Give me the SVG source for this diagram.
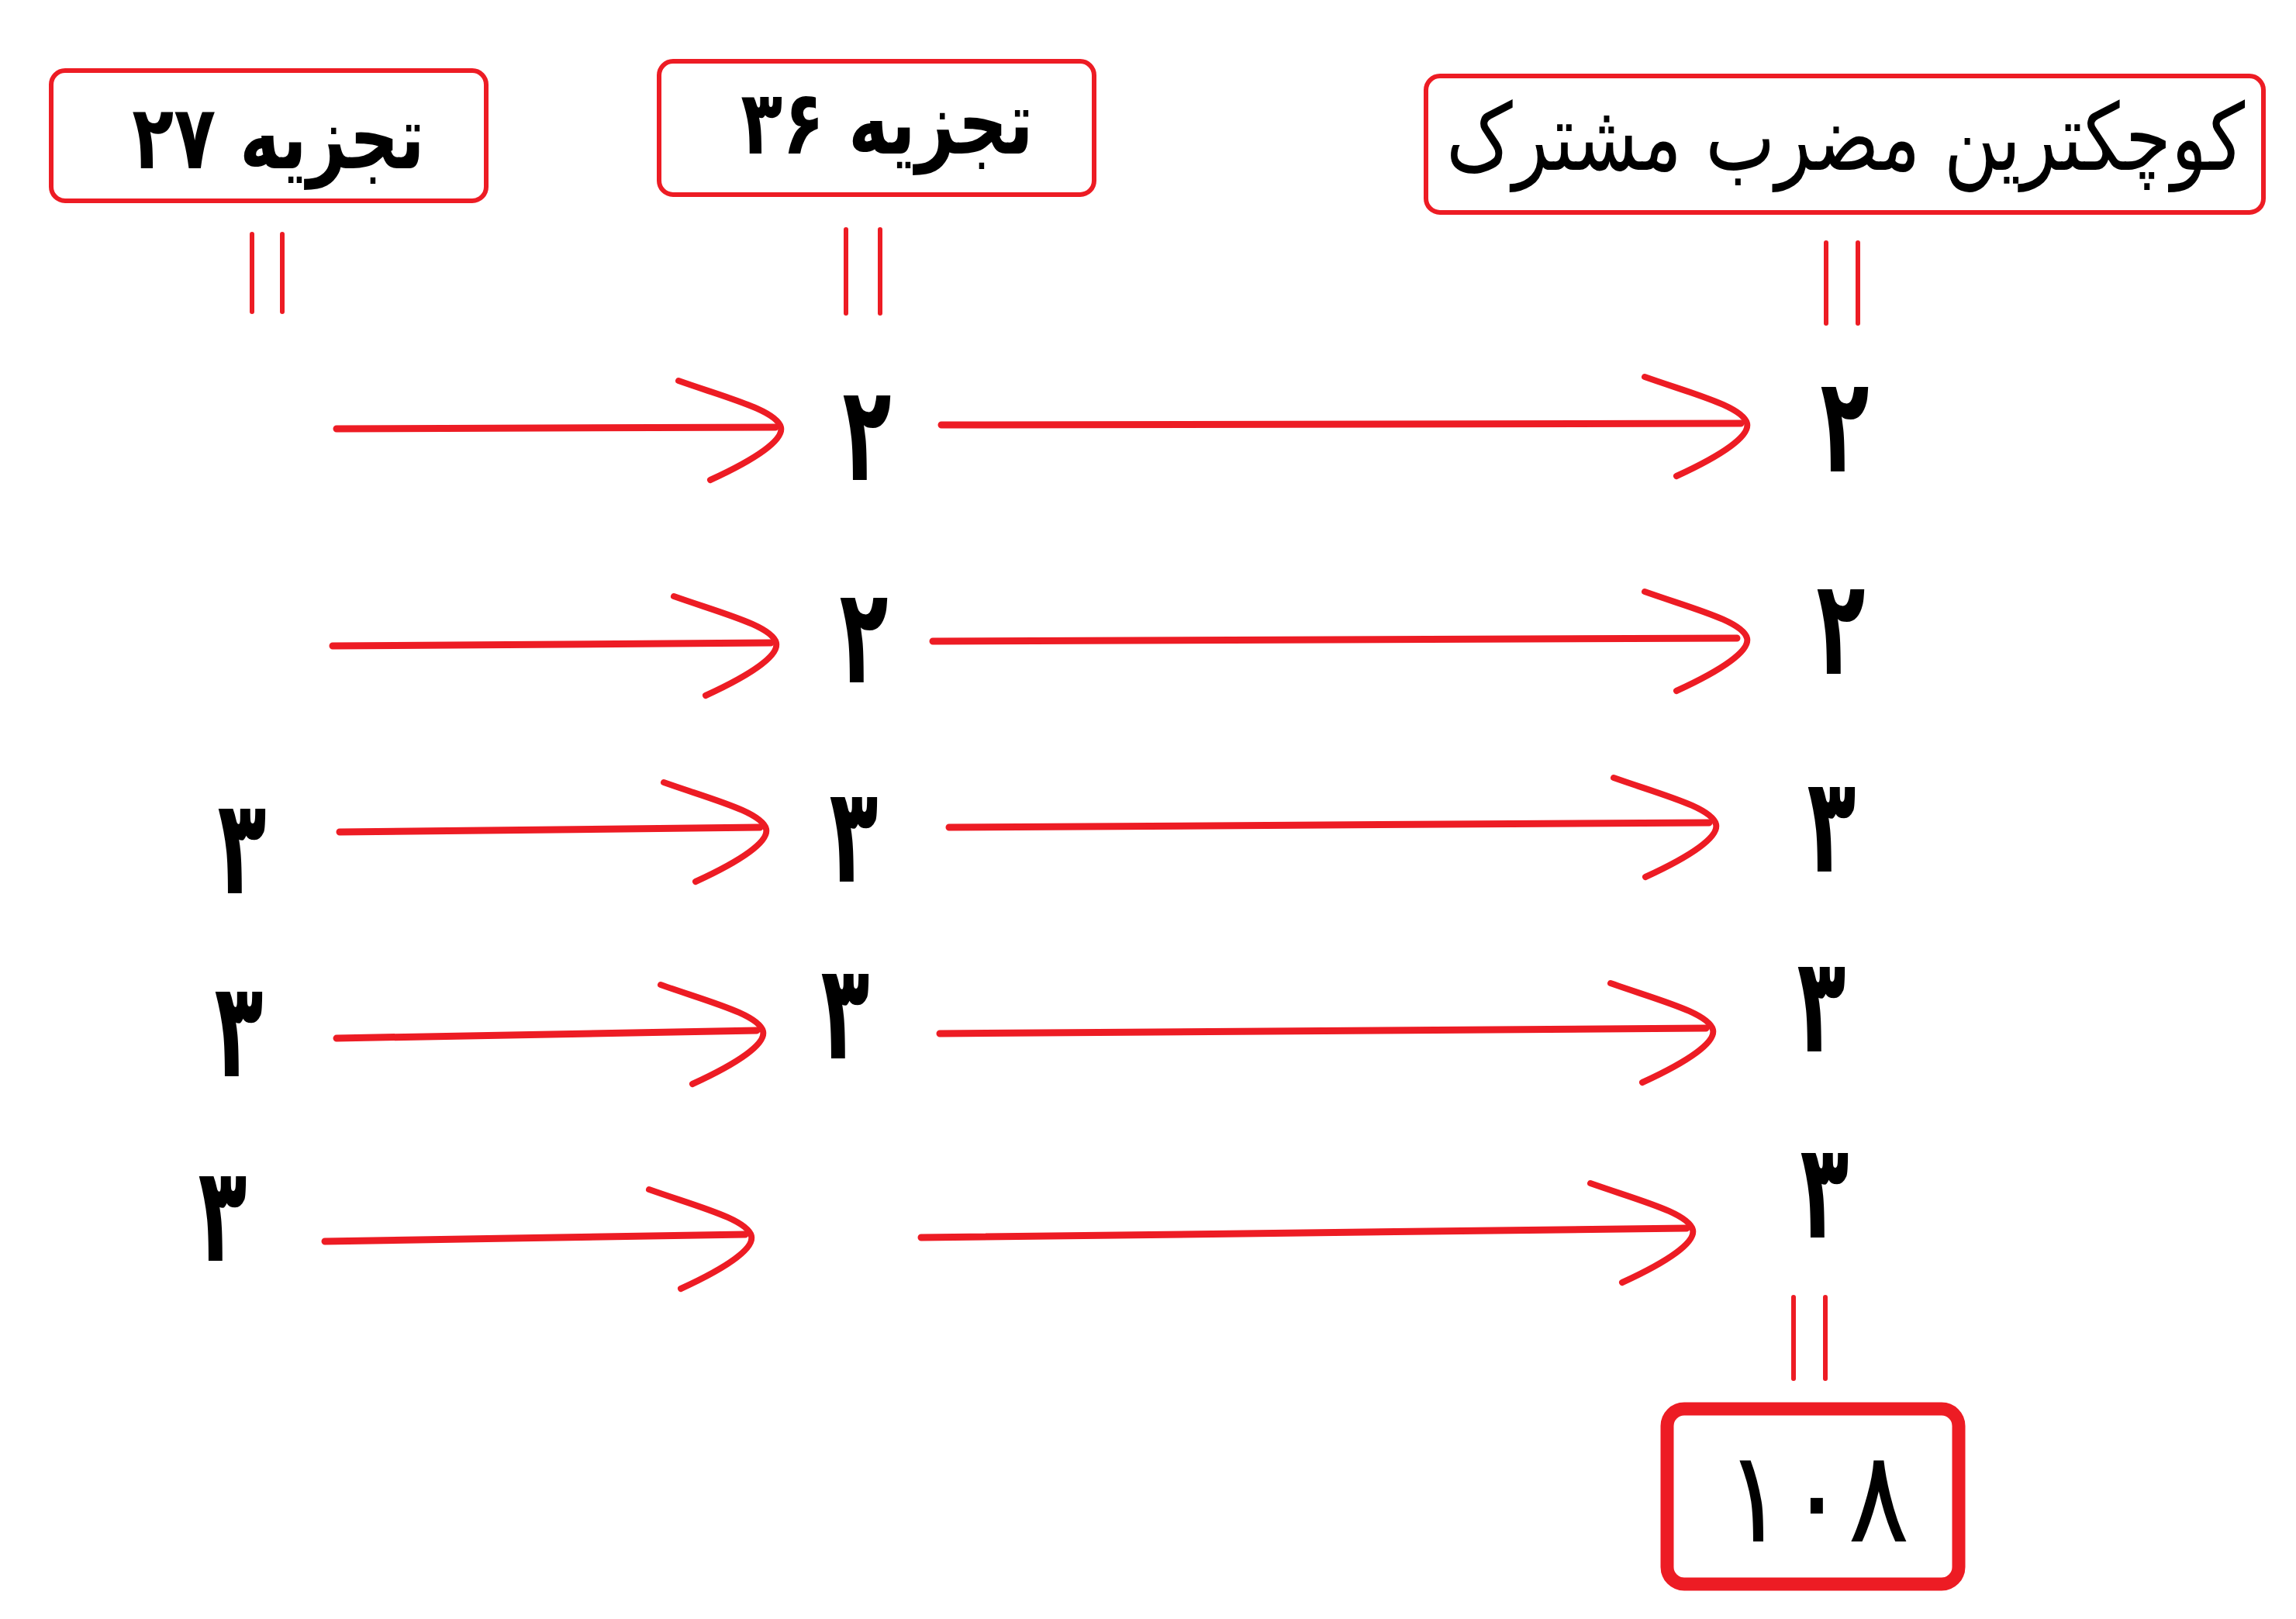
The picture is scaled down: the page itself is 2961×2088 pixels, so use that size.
<svg xmlns="http://www.w3.org/2000/svg" xmlns:xlink="http://www.w3.org/1999/xlink" width="2961" height="2088" viewBox="0 0 2961 2088">
<style>
.box{fill:#fff;stroke:#ED1C24;stroke-width:6}
.bigbox{fill:#fff;stroke:#ED1C24;stroke-width:17}
.eq{stroke:#ED1C24;stroke-width:6;stroke-linecap:round}
.ln{fill:none;stroke:#ED1C24;stroke-width:9;stroke-linecap:round}
.hd{fill:none;stroke:#ED1C24;stroke-width:8;stroke-linecap:round;stroke-linejoin:round}
.t{font-family:"DejaVu Sans",sans-serif;font-weight:bold;fill:#000;text-anchor:middle;direction:rtl}
.tn{font-family:"DejaVu Sans",sans-serif;font-weight:normal;fill:#000;text-anchor:middle;direction:rtl}
.d{font-family:"DejaVu Sans",sans-serif;font-weight:bold;font-size:172px;fill:#000;text-anchor:middle}
.r{font-family:"DejaVu Sans",sans-serif;font-weight:normal;font-size:165px;fill:#000;text-anchor:middle}
</style>
<defs>
<path id="head" class="hd" d="M -132,-60 C -70,-38 -6,-22 0,0 C 4,16 -30,40 -91,68"/>
</defs>
<rect width="2961" height="2088" fill="#fff"/>

<g id="node-factor27">
<rect class="box" x="66" y="91" width="561" height="168" rx="18"/>
<text class="t" transform="translate(359,217) scale(0.85,1.1)" font-size="104">تجزیه ۲۷</text>
</g>
<g id="node-factor36">
<rect class="box" x="850" y="79" width="561" height="172" rx="18"/>
<text class="t" transform="translate(1144,198) scale(0.85,1.1)" font-size="104">تجزیه ۳۶</text>
</g>
<g id="node-lcm">
<rect class="box" x="1839" y="98" width="1080" height="176" rx="18"/>
<text class="tn" transform="translate(2380,219) scale(0.92,1.15)" font-size="104">کوچکترین مضرب مشترک</text>
</g>
<g id="node-result">
<rect class="bigbox" x="2150" y="1817" width="376" height="226" rx="22"/>
<text class="r" transform="translate(2343,1988) scale(0.9,1)">۱۰۸</text>
</g>

<g id="digits">
<text class="d" transform="translate(1118,619) scale(0.6,1)">۲</text>
<text class="d" transform="translate(2379,608) scale(0.6,1)">۲</text>
<text class="d" transform="translate(1114,880) scale(0.6,1)">۲</text>
<text class="d" transform="translate(2374,869) scale(0.6,1)">۲</text>
<text class="d" transform="translate(312,1152) scale(0.6,1)">۳</text>
<text class="d" transform="translate(1101,1137) scale(0.6,1)">۳</text>
<text class="d" transform="translate(2362,1124) scale(0.6,1)">۳</text>
<text class="d" transform="translate(308,1388) scale(0.6,1)">۳</text>
<text class="d" transform="translate(1090,1365) scale(0.6,1)">۳</text>
<text class="d" transform="translate(2349,1356) scale(0.6,1)">۳</text>
<text class="d" transform="translate(287,1626) scale(0.6,1)">۳</text>
<text class="d" transform="translate(2353,1596) scale(0.6,1)">۳</text>
</g>

<g id="connectors">
<line class="eq" x1="325" y1="302" x2="325" y2="402"/>
<line class="eq" x1="364" y1="302" x2="364" y2="402"/>
<line class="eq" x1="1091" y1="296" x2="1091" y2="404"/>
<line class="eq" x1="1135" y1="296" x2="1135" y2="404"/>
<line class="eq" x1="2355" y1="313" x2="2355" y2="417"/>
<line class="eq" x1="2396" y1="313" x2="2396" y2="417"/>
<line class="eq" x1="2313" y1="1673" x2="2313" y2="1778"/>
<line class="eq" x1="2354" y1="1673" x2="2354" y2="1778"/>

<line class="ln" x1="434" y1="553" x2="1000" y2="551"/>
<use xlink:href="#head" href="#head" x="1007" y="551"/>
<line class="ln" x1="1214" y1="548" x2="2245" y2="546"/>
<use xlink:href="#head" href="#head" x="2253" y="546"/>

<line class="ln" x1="429" y1="833" x2="994" y2="829"/>
<use xlink:href="#head" href="#head" x="1001" y="829"/>
<line class="ln" x1="1203" y1="827" x2="2240" y2="823"/>
<use xlink:href="#head" href="#head" x="2253" y="823"/>

<line class="ln" x1="438" y1="1073" x2="980" y2="1067"/>
<use xlink:href="#head" href="#head" x="988" y="1069"/>
<line class="ln" x1="1224" y1="1067" x2="2204" y2="1061"/>
<use xlink:href="#head" href="#head" x="2213" y="1063"/>

<line class="ln" x1="434" y1="1339" x2="976" y2="1329"/>
<use xlink:href="#head" href="#head" x="984" y="1330"/>
<line class="ln" x1="1212" y1="1333" x2="2200" y2="1326"/>
<use xlink:href="#head" href="#head" x="2209" y="1328"/>

<line class="ln" x1="419" y1="1601" x2="961" y2="1592"/>
<use xlink:href="#head" href="#head" x="969" y="1594"/>
<line class="ln" x1="1188" y1="1596" x2="2175" y2="1584"/>
<use xlink:href="#head" href="#head" x="2183" y="1586"/>
</g>
</svg>
